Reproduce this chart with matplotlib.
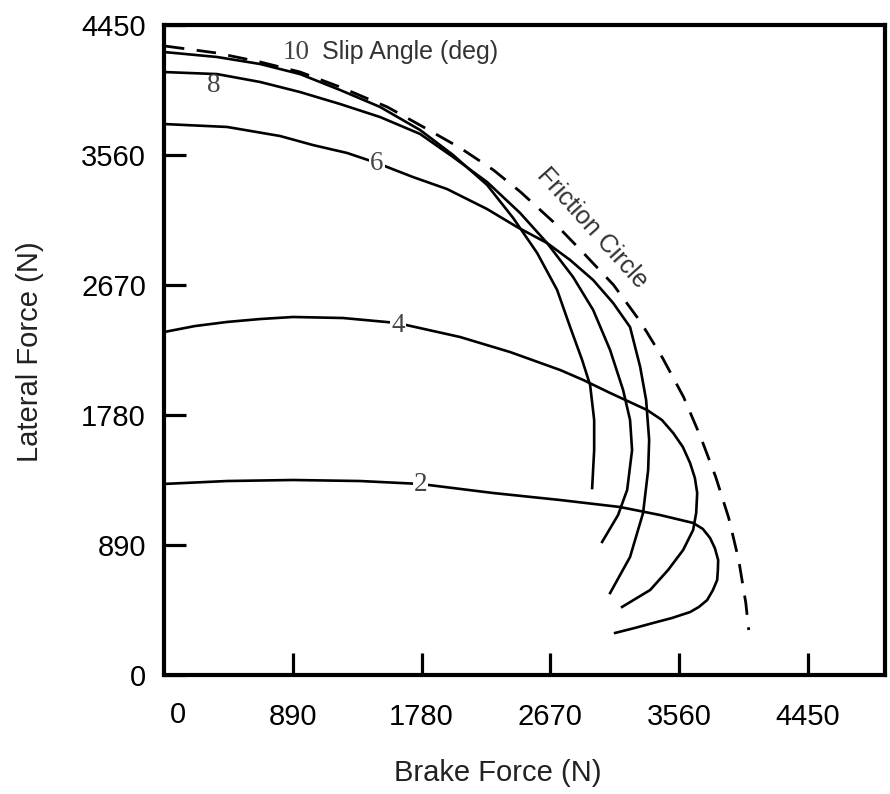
import numpy as np
import matplotlib
matplotlib.use('Agg')
import matplotlib.pyplot as plt

# brake force / lateral force pairs (N)
circle_x = [7, 367, 664, 941, 1218, 1543, 1792, 2048, 2277, 2464, 2692, 2899, 3107, 3294, 3446, 3591, 3709, 3813, 3903, 3972, 4021, 4041]
circle_y = [4306, 4258, 4197, 4128, 4025, 3889, 3752, 3608, 3457, 3307, 3101, 2889, 2670, 2417, 2170, 1903, 1629, 1356, 1075, 787, 493, 308]

slip10_x = [0, 366, 664, 940, 1217, 1493, 1770, 1998, 2233, 2413, 2579, 2717, 2807, 2890, 2945, 2973, 2973, 2959]
slip10_y = [4265, 4231, 4183, 4114, 4005, 3889, 3731, 3560, 3355, 3129, 2889, 2636, 2382, 2156, 1985, 1746, 1540, 1280]

slip8_x = [0, 366, 664, 940, 1217, 1493, 1770, 1998, 2233, 2461, 2648, 2827, 2966, 3083, 3173, 3221, 3235, 3201, 3138, 3028]
slip8_y = [4128, 4114, 4060, 3991, 3909, 3820, 3704, 3546, 3375, 3163, 2957, 2725, 2499, 2225, 1951, 1746, 1540, 1267, 1095, 911]

slip6_x = [0, 436, 802, 1030, 1265, 1472, 1721, 1956, 2233, 2440, 2648, 2807, 2966, 3104, 3221, 3291, 3332, 3353, 3346, 3311, 3221, 3083]
slip6_y = [3772, 3752, 3690, 3628, 3574, 3505, 3409, 3327, 3190, 3067, 2957, 2841, 2704, 2547, 2382, 2109, 1883, 1609, 1403, 1109, 808, 561]

slip4_x = [0, 214, 436, 664, 892, 1237, 1611, 2046, 2392, 2738, 2897, 3083, 3339, 3441, 3519, 3586, 3636, 3669, 3685, 3678, 3657, 3588, 3484, 3360, 3166]
slip4_y = [2348, 2389, 2417, 2437, 2451, 2444, 2410, 2314, 2211, 2088, 2020, 1931, 1814, 1746, 1657, 1561, 1451, 1349, 1246, 1109, 993, 856, 719, 582, 466]

slip2_x = [0, 436, 892, 1355, 1770, 2274, 2738, 3152, 3429, 3657, 3724, 3774, 3807, 3830, 3828, 3823, 3794, 3754, 3697, 3636, 3510, 3380, 3254, 3118]
slip2_y = [1308, 1328, 1335, 1328, 1308, 1246, 1198, 1150, 1095, 1041, 1000, 938, 869, 787, 719, 650, 582, 513, 466, 431, 390, 356, 322, 288]

curve_labels = ['10', '8', '6', '4', '2']
label_x = [911, 344, 1472, 1617, 1775]
label_y = [4265, 4039, 3505, 2396, 1301]

tick_vals = [0, 890, 1780, 2670, 3560, 4450]
tick_text = [str(v) for v in tick_vals]

plt.rcParams['font.family'] = ['Liberation Sans', 'DejaVu Sans']

fig = plt.figure(figsize=(8.9, 7.94), dpi=100)
ax = fig.add_axes([164 / 890, 119 / 794, 721 / 890, 650 / 794])

ax.plot(circle_x, circle_y, color='black', lw=2.0, linestyle=(0, (7, 4.5)))
for xs, ys in [(slip10_x, slip10_y), (slip8_x, slip8_y), (slip6_x, slip6_y),
               (slip4_x, slip4_y), (slip2_x, slip2_y)]:
    ax.plot(xs, ys, color='black', lw=1.9, solid_joinstyle='round')

for i, lab in enumerate(curve_labels):
    bb = None
    if i >= 2:
        bb = dict(facecolor='white', edgecolor='none', pad=0.5)
    ax.text(label_x[i], label_y[i], lab, family='Liberation Serif', fontsize=19.5,
            color='#444444', ha='center', va='center', bbox=bb, zorder=5)

ax.text(1092, 4265, 'Slip Angle (deg)', fontsize=18, color='#333333',
        ha='left', va='center')
ax.text(2957, 3060, 'Friction Circle', fontsize=18, color='#333333',
        ha='center', va='center', rotation=-48, rotation_mode='anchor')

ax.set_xlim(0, 4983)
ax.set_ylim(0, 4450)

ax.set_xticks(tick_vals[1:], tick_text[1:])
ax.set_yticks(tick_vals, tick_text)
ax.tick_params(axis='both', direction='in', length=16, width=2.3, labelsize=21,
               colors='black')
ax.tick_params(axis='x', pad=20)
ax.tick_params(axis='y', pad=13)
ax.text(14 / 721, -0.061, '0', transform=ax.transAxes, fontsize=21,
        ha='center', va='center')

for s in ax.spines.values():
    s.set_linewidth(3)

fig.text(498 / 890, 1 - 773 / 794, 'Brake Force (N)', fontsize=21,
         ha='center', va='center', color='#222222')
fig.text(30 / 890, 1 - 352 / 794, 'Lateral Force (N)', fontsize=21,
         ha='center', va='center', rotation=90, color='#222222')

fig.savefig('out.png', dpi=100)
